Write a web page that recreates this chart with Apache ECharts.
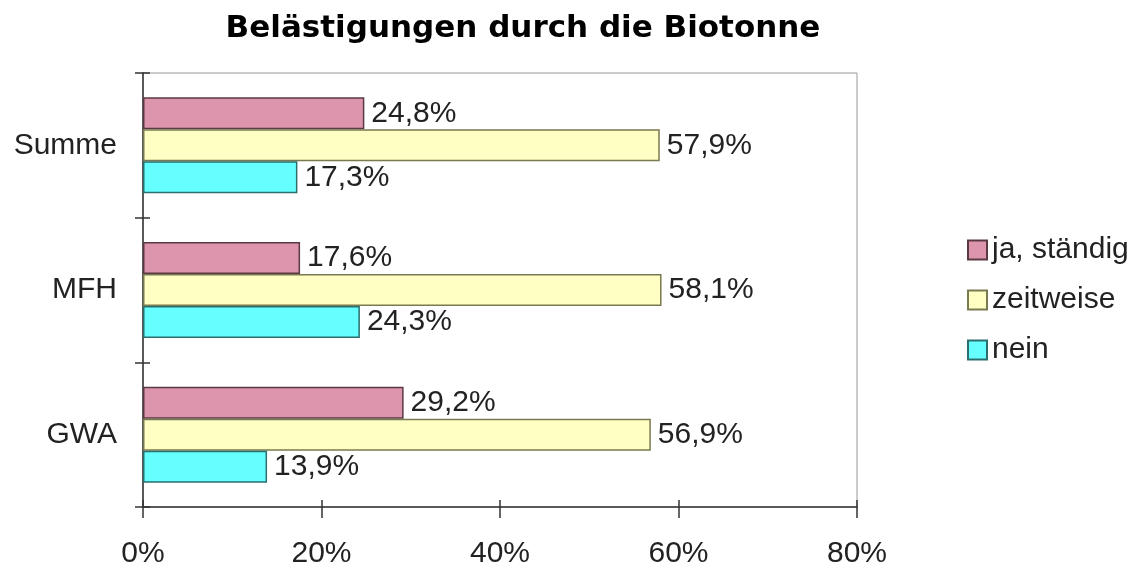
<!DOCTYPE html>
<html>
<head>
<meta charset="utf-8">
<script src="https://cdn.jsdelivr.net/npm/echarts@6/dist/echarts.min.js"></script>
<style>html,body{margin:0;padding:0;background:#fff;}#c{width:1145px;height:569px;}</style>
</head>
<body>
<div id="c"></div>
<script>
const categories = ['GWA', 'MFH', 'Summe'];
const seriesNames = ['ja, ständig', 'zeitweise', 'nein'];
const jaStaendig = [29.2, 17.6, 24.8];
const zeitweise = [56.9, 58.1, 57.9];
const nein = [13.9, 24.3, 17.3];
const xTicks = [0, 20, 40, 60, 80];

const chart = echarts.init(document.getElementById('c'));
const font = 'Liberation Sans, Arial, sans-serif';
const fmt = v => String(v.toFixed(1)).replace('.', ',') + '%';
const labelCfg = {
  show: true, position: 'right', distance: 7,
  fontFamily: font, fontSize: 30, color: '#222',
  formatter: p => fmt(p.value)
};
function mk(name, data, color, border) {
  return {
    name, type: 'bar', data, xAxisIndex: 0, yAxisIndex: 0,
    barWidth: 32, barGap: '0%',
    itemStyle: { color, borderColor: border, borderWidth: 1.5 },
    label: labelCfg, emphasis: { disabled: true }
  };
}
chart.setOption({
  animation: false,
  backgroundColor: '#fff',
  title: {
    text: 'Belästigungen durch die Biotonne',
    left: 518, top: 8, textAlign: 'center',
    textStyle: { fontFamily: 'DejaVu Sans', fontSize: 31, fontWeight: 'bold', color: '#000' }
  },
  legend: {
    data: seriesNames, orient: 'vertical', left: 967, top: 235, padding: 0,
    itemWidth: 19, itemHeight: 19, itemGap: 20,
    textStyle: { fontFamily: font, fontSize: 30, lineHeight: 30, color: '#222' },
    icon: 'rect'
  },
  grid: { left: 143, right: 288, top: 73, bottom: 62, show: true, borderColor: '#999', borderWidth: 1 },
  xAxis: [{
    type: 'value', min: xTicks[0], max: xTicks[xTicks.length - 1], interval: 20,
    axisLine: { show: true, lineStyle: { color: '#333', width: 1.5 } },
    axisTick: { show: true, length: 11, lineStyle: { color: '#333', width: 1.5 } },
    axisLabel: { margin: 32, fontFamily: font, fontSize: 30, color: '#222', formatter: v => v + '%' },
    splitLine: { show: false }
  }, {
    type: 'value', position: 'bottom', min: 0, max: 80, interval: 20,
    axisLine: { show: false },
    axisTick: { show: true, inside: true, length: 7, lineStyle: { color: '#333', width: 1.5 } },
    axisLabel: { show: false }, splitLine: { show: false }
  }],
  yAxis: [{
    type: 'category', data: categories,
    axisLine: { show: true, lineStyle: { color: '#333', width: 1.5 } },
    axisTick: { show: true, length: 8, lineStyle: { color: '#333', width: 1.5 } },
    axisLabel: { margin: 26, fontFamily: font, fontSize: 30, color: '#222' }
  }, {
    type: 'category', data: categories, position: 'left',
    axisLine: { show: false },
    axisTick: { show: true, inside: true, length: 7, lineStyle: { color: '#333', width: 1.5 } },
    axisLabel: { show: false }
  }],
  series: [
    mk(seriesNames[0], jaStaendig, '#dd95ae', '#5a3a40'),
    mk(seriesNames[1], zeitweise, '#ffffc4', '#7a7a50'),
    mk(seriesNames[2], nein, '#66ffff', '#2a6e6e')
  ]
});
</script>
</body>
</html>
